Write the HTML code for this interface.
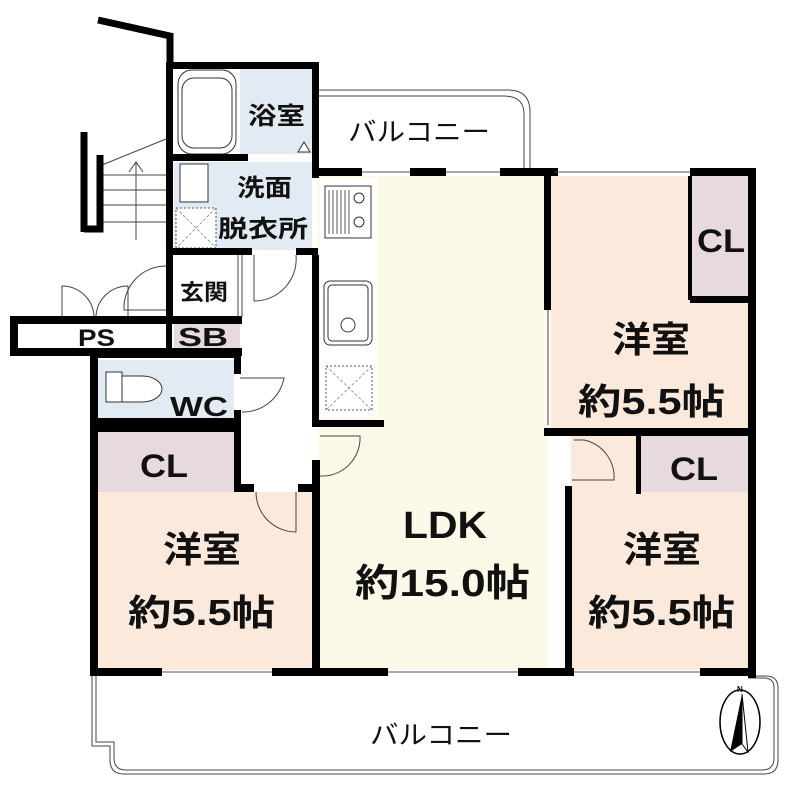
<!DOCTYPE html>
<html><head><meta charset="utf-8"><style>
html,body{margin:0;padding:0;background:#fff}
svg{display:block}
text{font-family:"Liberation Sans","Noto Sans CJK JP",sans-serif;fill:#111}
.b{font-weight:bold}
</style></head><body>
<svg width="800" height="798" viewBox="0 0 800 798" xmlns="http://www.w3.org/2000/svg">
<rect x="318" y="176" width="230" height="494" fill="#fcf9e8"/>
<rect x="551" y="176" width="199" height="254" fill="#fbe9dc"/>
<rect x="692" y="176" width="58" height="122" fill="#e6dadf"/>
<rect x="571" y="434" width="179" height="236" fill="#fbe9dc"/>
<rect x="640" y="434" width="110" height="58" fill="#e6dadf"/>
<rect x="96" y="492" width="216" height="178" fill="#fbe9dc"/>
<rect x="96" y="432" width="141" height="60" fill="#e6dadf"/>
<rect x="96" y="360" width="138" height="60" fill="#e2ebf3"/>
<rect x="174" y="318" width="66" height="30" fill="#e6dadf"/>
<rect x="240" y="68" width="72" height="86" fill="#e2ebf3"/>
<rect x="174" y="162" width="138" height="88" fill="#e2ebf3"/>
<rect x="320" y="178" width="58" height="240" fill="#fff"/>
<rect x="325" y="186" width="46" height="52" fill="#fff" stroke="#333" stroke-width="1"/>
<path d="M329 190v44M333 190v44M337 190v44M341 190v44M345 190v44M349 190v44" stroke="#555"/>
<circle cx="359" cy="198" r="5" fill="none" stroke="#333"/><circle cx="359" cy="222" r="5" fill="none" stroke="#333"/>
<rect x="324" y="281" width="48" height="64" rx="6" fill="#fff" stroke="#333"/>
<rect x="328" y="285" width="40" height="56" rx="4" fill="none" stroke="#333"/>
<circle cx="348" cy="325" r="7" fill="none" stroke="#333"/>
<rect x="326" y="366" width="46" height="44" fill="none" stroke="#555" stroke-dasharray="2,2"/>
<path d="M326 366l46 44M372 366l-46 44" stroke="#888" stroke-width="0.8" stroke-dasharray="3,2"/>
<rect x="178" y="70" width="58" height="84" rx="14" fill="#fff" stroke="#333"/>
<rect x="182" y="78" width="50" height="70" rx="12" fill="none" stroke="#333"/>
<rect x="180" y="164" width="28" height="38" fill="#fff" stroke="#333"/>
<rect x="176" y="208" width="40" height="40" fill="#fff" stroke="#555" stroke-dasharray="2,2"/>
<path d="M176 208l40 40M216 208l-40 40" stroke="#888" stroke-width="0.8" stroke-dasharray="3,2"/>
<path d="M298 152l6 -10 6 10z" fill="#fff" stroke="#333"/>
<path d="M106 372h16v30h-16z M122 376h20a20 13 0 0 1 0 26h-20z" fill="#fff" stroke="#333"/>
<g stroke="#444" stroke-width="1">
<path d="M100 175h66M100 190h66M100 205h66M100 222h66M102 165l64-26"/>
<path d="M136 240v-77M129 172l7-10 7 10" fill="none"/>
</g>
<path d="M84 132v100M100 155v74h-16" fill="none" stroke="#000" stroke-width="7"/>
<path d="M98 20l72 16v30" fill="none" stroke="#000" stroke-width="7"/>
<path d="M318 90h190q22 0 22 22v56M318 96h186q20 0 20 18v54" fill="none" stroke="#444"/>
<path d="M92 676v70h18v14q0 14 14 14h640q14 0 14 -14v-72q0 -12 -12 -12h-18" fill="none" stroke="#444"/>
<path d="M96 676v66h18v16q0 12 12 12h636q12 0 12 -12v-70q0 -10 -10 -10h-16" fill="none" stroke="#444"/>
<g fill="#000">
<rect x="166" y="62" width="152" height="7"/>
<rect x="166" y="62" width="7" height="262"/>
<rect x="312" y="62" width="7" height="116"/>
<rect x="172" y="154" width="76" height="7"/>
<rect x="172" y="248" width="80" height="7"/>
<rect x="296" y="248" width="22" height="7"/>
<rect x="312" y="168" width="50" height="8"/>
<rect x="410" y="168" width="36" height="8"/>
<rect x="500" y="168" width="58" height="8"/>
<rect x="690" y="168" width="66" height="8"/>
<rect x="748" y="168" width="8" height="510"/>
<rect x="544" y="168" width="7" height="142"/>
<rect x="544" y="428" width="212" height="8"/>
<rect x="690" y="296" width="62" height="7"/>
<rect x="688" y="176" width="4" height="124"/>
<rect x="636" y="434" width="5" height="60"/>
<rect x="565" y="486" width="7" height="190"/>
<rect x="312" y="255" width="7" height="168"/>
<rect x="312" y="420" width="72" height="7"/>
<rect x="312" y="460" width="8" height="216"/>
<rect x="10" y="316" width="232" height="8"/>
<rect x="10" y="316" width="8" height="40"/>
<rect x="10" y="348" width="232" height="8"/>
<rect x="166" y="318" width="6" height="36"/>
<rect x="90" y="352" width="8" height="324"/>
<rect x="90" y="352" width="150" height="6"/>
<rect x="234" y="352" width="7" height="22"/>
<rect x="234" y="410" width="7" height="80"/>
<rect x="90" y="418" width="150" height="8"/>
<rect x="90" y="425" width="150" height="7"/>
<rect x="234" y="484" width="20" height="8"/>
<rect x="298" y="484" width="20" height="8"/>
<rect x="90" y="668" width="72" height="8"/>
<rect x="272" y="668" width="116" height="8"/>
<rect x="518" y="668" width="56" height="8"/>
<rect x="700" y="668" width="56" height="8"/>
</g>
<g fill="none" stroke="#444">
<path d="M62 316v-30a32 32 0 0 1 32 30M128 316v-30a32 32 0 0 0 -32 30"/>
<path d="M166 310h-42a42 42 0 0 1 42 -44"/>
<path d="M254 255v46a42 42 0 0 0 42 -46"/>
<path d="M240 378h44a42 42 0 0 1 -42 34"/>
<path d="M320 436h40a38 38 0 0 1 -40 40"/>
<path d="M574 440h10a38 38 0 0 1 30 40h-42"/>
<path d="M256 492a40 40 0 0 0 40 40v-40"/>
<path d="M548 310v115"/>
<path d="M238 255v62M242 255v62"/>
</g>
<g stroke="#555" fill="none">
<path d="M162 672h110M388 672h130M574 672h126M555 172h135M362 172h48M446 172h54"/>
</g>
<ellipse cx="740" cy="722" rx="20" ry="32" fill="none" stroke="#000" stroke-width="1.5"/>
<path d="M742 694l-12 58 12-8z" fill="#000"/>
<path d="M742 694l6 58-6-8z" fill="#fff" stroke="#000"/>
<text x="737" y="692" font-size="8" class="b">N</text>
<g lengthAdjust="spacingAndGlyphs">
<text x="248" y="124" font-size="24" class="b" textLength="57" lengthAdjust="spacingAndGlyphs">浴室</text>
<text x="348" y="141" font-size="26" textLength="142" lengthAdjust="spacingAndGlyphs">バルコニー</text>
<text x="237" y="196" font-size="24" class="b" textLength="55" lengthAdjust="spacingAndGlyphs">洗面</text>
<text x="218" y="237" font-size="24" class="b" textLength="90" lengthAdjust="spacingAndGlyphs">脱衣所</text>
<text x="180" y="300" font-size="22" class="b" textLength="48" lengthAdjust="spacingAndGlyphs">玄関</text>
<text x="178" y="346" font-size="26" class="b" textLength="50" lengthAdjust="spacingAndGlyphs">SB</text>
<text x="78" y="346" font-size="24" class="b" textLength="37" lengthAdjust="spacingAndGlyphs">PS</text>
<text x="170" y="416" font-size="28" class="b" textLength="58" lengthAdjust="spacingAndGlyphs">WC</text>
<text x="140" y="477" font-size="32" class="b" textLength="48" lengthAdjust="spacingAndGlyphs">CL</text>
<text x="697" y="252" font-size="32" class="b" textLength="48" lengthAdjust="spacingAndGlyphs">CL</text>
<text x="670" y="480" font-size="32" class="b" textLength="48" lengthAdjust="spacingAndGlyphs">CL</text>
<text x="612" y="352" font-size="36" class="b" textLength="78" lengthAdjust="spacingAndGlyphs">洋室</text>
<text x="578" y="414" font-size="36" class="b" textLength="147" lengthAdjust="spacingAndGlyphs">約5.5帖</text>
<text x="163" y="562" font-size="36" class="b" textLength="78" lengthAdjust="spacingAndGlyphs">洋室</text>
<text x="128" y="625" font-size="36" class="b" textLength="147" lengthAdjust="spacingAndGlyphs">約5.5帖</text>
<text x="623" y="562" font-size="36" class="b" textLength="78" lengthAdjust="spacingAndGlyphs">洋室</text>
<text x="588" y="625" font-size="36" class="b" textLength="147" lengthAdjust="spacingAndGlyphs">約5.5帖</text>
<text x="403" y="538" font-size="38" class="b" textLength="84" lengthAdjust="spacingAndGlyphs">LDK</text>
<text x="355" y="596" font-size="38" class="b" textLength="175" lengthAdjust="spacingAndGlyphs">約15.0帖</text>
<text x="370" y="744" font-size="26" textLength="142" lengthAdjust="spacingAndGlyphs">バルコニー</text>
</g>
</svg>
</body></html>
